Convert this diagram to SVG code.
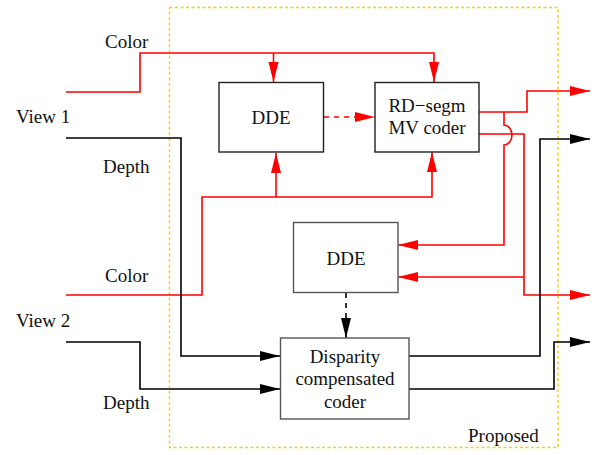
<svg xmlns="http://www.w3.org/2000/svg" width="597" height="455" viewBox="0 0 597 455">
<style>
text{font-family:"Liberation Serif","Times New Roman",serif;font-size:19px;fill:#111}
.c{text-anchor:middle}
.box{fill:#fff;stroke:#222;stroke-width:1.4}
.box2{fill:#fff;stroke:#555;stroke-width:1.4}
.r{fill:none;stroke:#f00;stroke-width:1.6}
.k{fill:none;stroke:#000;stroke-width:1.6}
.rd{fill:none;stroke:#f00;stroke-width:1.6;stroke-dasharray:5 5}
.kd{fill:none;stroke:#000;stroke-width:1.6;stroke-dasharray:5 5}
.ar{marker-end:url(#ar)}
.ak{marker-end:url(#ak)}
</style>
<defs>
<marker id="ar" markerUnits="userSpaceOnUse" markerWidth="22" markerHeight="12" refX="20" refY="5" orient="auto"><path d="M0 0L20 5L0 10z" fill="#f00"/></marker>
<marker id="ak" markerUnits="userSpaceOnUse" markerWidth="22" markerHeight="12" refX="20" refY="5" orient="auto"><path d="M0 0L20 5L0 10z" fill="#000"/></marker>
</defs>
<rect id="proposed-region" x="169.5" y="7.5" width="388.5" height="440" fill="none" stroke="#ffcc00" stroke-width="1.4" stroke-dasharray="3 2.5"/>
<g id="connectors">
<path class="r ar" d="M66 92H140V53H434V82"/>
<path class="r ar" d="M273.5 53V82"/>
<path class="r ar" d="M66 295H202V197H432V152"/>
<path class="r ar" d="M276 197V153"/>
<path class="rd ar" d="M324 117H375"/>
<path class="r ar" d="M479 112H527V91H590"/>
<path class="r ar" d="M504 112V125A8 10 0 0 1 504 145V245H398"/>
<path class="r ar" d="M479 134H524V295H590"/>
<path class="r ar" d="M524 277H398"/>
<path class="k ak" d="M66 138H181V356H280"/>
<path class="k ak" d="M66 342H140V389H280"/>
<path class="kd ak" d="M346 293V338"/>
<path class="k ak" d="M409 356H540V139H590"/>
<path class="k ak" d="M409 389H554V342H590"/>
</g>
<g id="dde1"><rect class="box" x="219" y="82.5" width="104.5" height="69.5"/><text class="c" x="271" y="124">DDE</text></g>
<g id="rdsegm"><rect class="box" x="375" y="82.5" width="104" height="69.5"/><text class="c" x="427" y="112">RD−segm</text><text class="c" x="427" y="134">MV coder</text></g>
<g id="dde2"><rect class="box2" x="293.5" y="222.5" width="104.5" height="70"/><text class="c" x="346" y="265">DDE</text></g>
<g id="disparity"><rect class="box2" x="280.5" y="338" width="128.5" height="81"/><text class="c" x="345" y="362.5">Disparity</text><text class="c" x="345" y="385">compensated</text><text class="c" x="345" y="407.5">coder</text></g>
<g id="labels">
<text x="105" y="48">Color</text>
<text x="16" y="123">View 1</text>
<text x="103" y="173">Depth</text>
<text x="105" y="282">Color</text>
<text x="16" y="327">View 2</text>
<text x="103" y="409">Depth</text>
<text x="468" y="442">Proposed</text>
</g>
</svg>
